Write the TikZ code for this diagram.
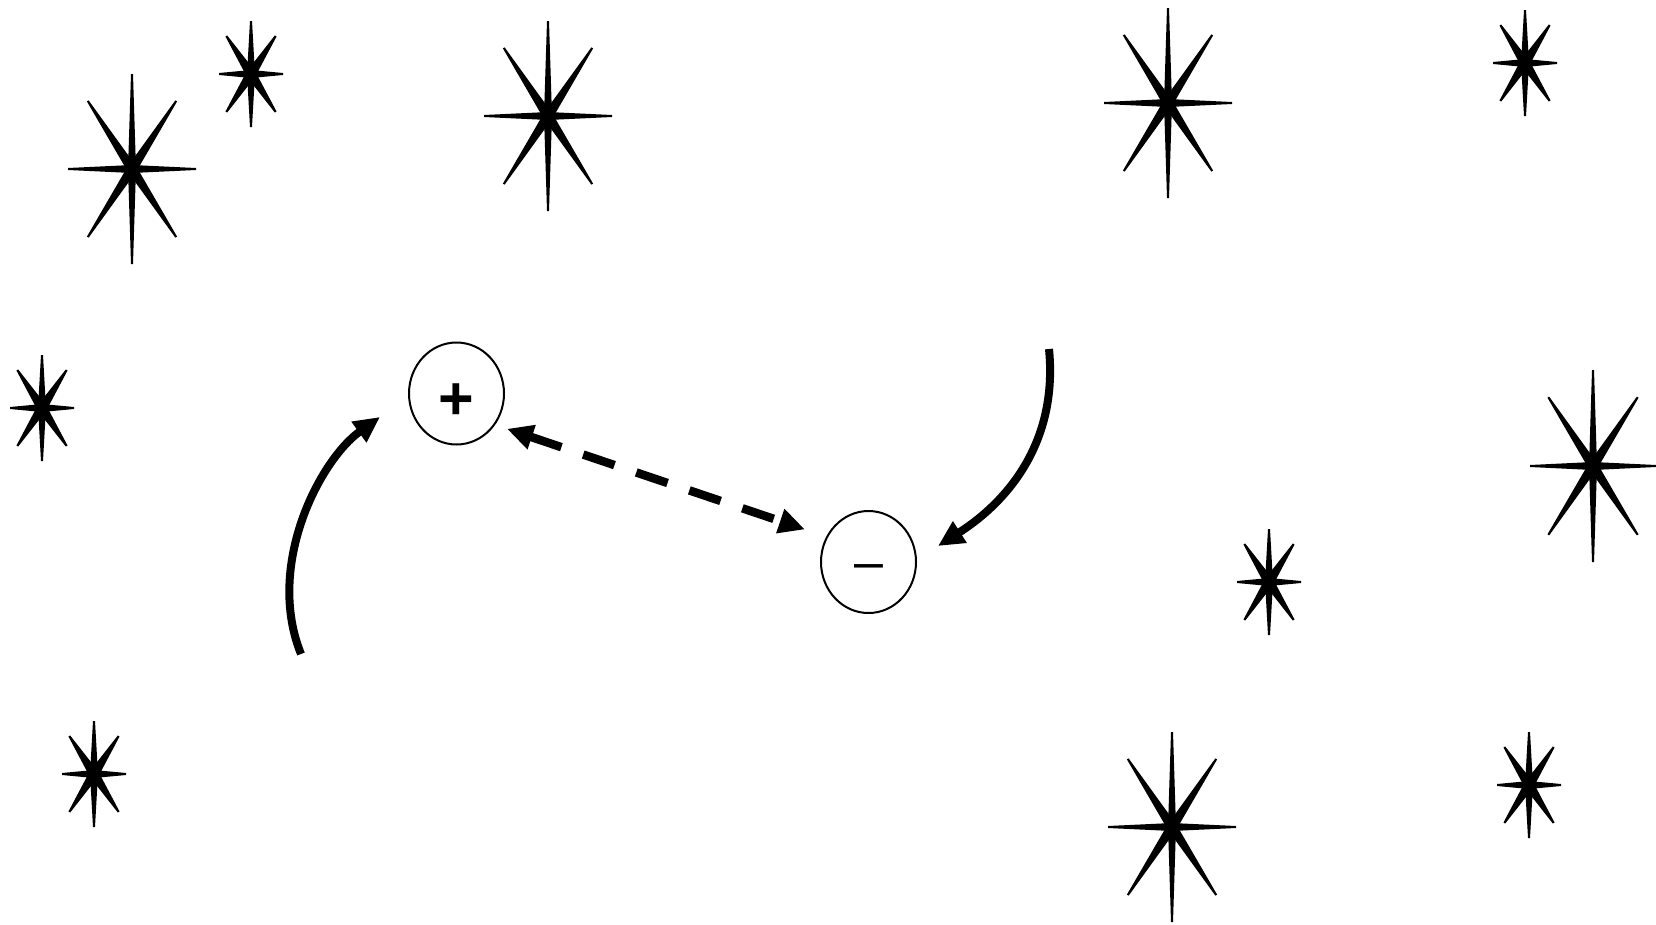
\documentclass[tikz,border=0pt]{standalone}
\usepackage{fontspec}
\setmainfont{Liberation Sans}
\usetikzlibrary{arrows.meta,shapes.geometric}

% spark: centre x, centre y, half width, half height
\newcommand{\spark}[4]{%
  \foreach \ang/\len/\wd in {0/#3/4,180/#3/4,90/#4/4,270/#4/4,57/0.855*#4/5,123/0.855*#4/5,237/0.855*#4/5,303/0.855*#4/5}
    \fill[shift={(#1,#2)},rotate=\ang] (0,-\wd) -- (\len,-1) -- (\len,1) -- (0,\wd) -- cycle;
}

\tikzset{
  ion/.style={draw,ellipse,line width=2pt,minimum width=95pt,minimum height=102pt,inner sep=0pt},
  pull/.style={line width=8pt,-{Triangle[length=26pt,width=24pt]}},
  swap/.style={line width=8.5pt,dash pattern=on 33pt off 23pt,
    {Triangle[length=26pt,width=24pt]}-{Triangle[length=26pt,width=24pt]}}
}

\begin{document}
\begin{tikzpicture}[x=1pt,y=-1pt]
  \useasboundingbox (0,0) rectangle (1656,924);
  % Sparks
  \foreach \x/\y/\w/\h in {132/169/64/95, 251/74/32/53, 548/116/64/95, 1168/103/64/95,
      1525/63/32/53, 42/408/32/53, 1593/466/63/96, 1269/582/32/53, 94/774/32/53,
      1172/827/64/95, 1529/785/32/53}
    \spark{\x}{\y}{\w}{\h};
  % Charges
  \node[ion,font=\fontsize{61}{61}\selectfont\bfseries] (pos) at (456.5,393.5) {\raisebox{-25.5pt}[0pt][0pt]{+}};
  \node[ion,font=\fontsize{52}{52}\selectfont] (neg) at (868.5,562) {\raisebox{-17pt}[0pt][0pt]{\textendash}};
  % Dashed exchange
  \draw[swap,shorten <=12.5pt,shorten >=22.5pt] (pos.-39) -- (neg.149);
  % Curved arrows
  \coordinate (lstart) at (301,654);
  \coordinate (lend) at (380,417);
  \draw[pull] (lstart) .. controls (265,565) and (320,460) .. (lend);
  \coordinate (rstart) at (1049,349);
  \coordinate (rend) at (938,546);
  \draw[pull] (rstart) .. controls (1058,440) and (1010,500) .. (rend);
\end{tikzpicture}
\end{document}
